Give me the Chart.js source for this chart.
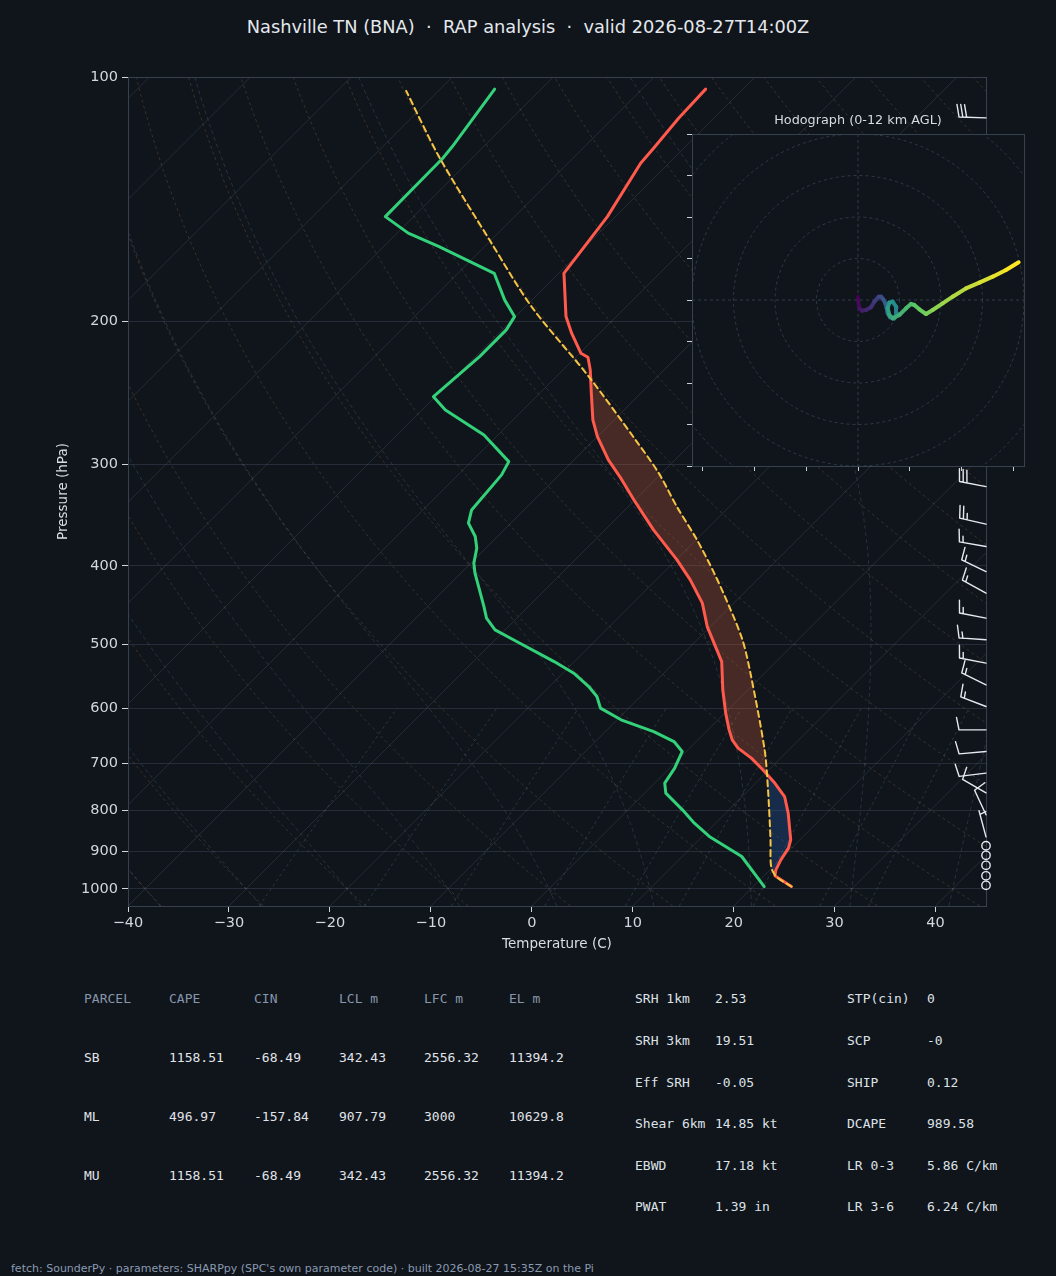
<!DOCTYPE html>
<html>
<head>
<meta charset="utf-8">
<script src="https://cdn.jsdelivr.net/npm/chart.js@4.4.1/dist/chart.umd.min.js"></script>
<style>
  html, body { margin: 0; padding: 0; background: #10141b; }
  #page { position: relative; width: 1056px; height: 1276px; overflow: hidden; font-family: "DejaVu Sans", sans-serif; }
  #skew { position: absolute; left: 0; top: 0; }
  #hodo { position: absolute; left: 680px; top: 100px; }
  .txt { position: absolute; white-space: pre; }
  #title { left: 0; width: 1056px; top: 16px; text-align: center; font-size: 17.8px; line-height: 22px; color: #e4e8ec; }
  #hodoTitle { left: 708px; width: 300px; top: 112px; text-align: center; font-size: 12.8px; line-height: 16px; color: #d6dbe1; }
  .mono { font-family: "DejaVu Sans Mono", monospace; font-size: 13px; line-height: 16px; }
  #foot { left: 11px; top: 1262px; font-size: 11px; line-height: 14px; color: #8a9ab0; }
</style>
</head>
<body>
<div id="page">
  <div id="title" class="txt">Nashville TN (BNA)  ·  RAP analysis  ·  valid 2026-08-27T14:00Z</div>
  <canvas id="skew" width="1056" height="960"></canvas>
  <canvas id="hodo" width="360" height="380"></canvas>
  <div id="hodoTitle" class="txt">Hodograph (0-12 km AGL)</div>
  <div id="tables"></div>
  <div id="foot" class="txt">fetch: SounderPy · parameters: SHARPpy (SPC's own parameter code) · built 2026-08-27 15:35Z on the Pi</div>
</div>
<script>
// ---- sounding values (hPa, degC) ----
const TEMP_P = [993.6, 963.9, 947.6, 921.1, 891.1, 870.4, 806.8, 769.7, 741.0, 713.5, 690.2, 671.0, 655.4, 637.1, 607.5, 568.6, 524.9, 475.3, 444.8, 416.4, 393.4, 361.3, 331.9, 312.9, 296.3, 277.3, 264.5, 245.2, 229.6, 221.4, 218.9, 206.8, 197.3, 175.9, 174.5, 148.6, 127.7, 122.4, 112.4, 103.5];
const TEMP_C = [23.8, 21.1, 20.6, 20.1, 19.7, 19.1, 16.2, 14.2, 11.9, 9.4, 7.1, 4.8, 3.4, 2.1, 0.1, -2.5, -5.4, -10.3, -13.1, -16.6, -19.9, -25.2, -30.1, -33.4, -36.6, -40.0, -42.1, -44.9, -47.3, -48.8, -49.9, -52.8, -55.0, -59.2, -59.5, -60.8, -62.8, -63.0, -63.5, -63.7];

const DEWP_P = [993.6, 912.5, 862.1, 830.1, 799.3, 762.4, 741.0, 710.2, 677.5, 658.6, 640.2, 619.2, 599.0, 579.6, 563.4, 542.5, 524.9, 495.9, 479.7, 464.1, 449.1, 408.5, 397.1, 380.5, 368.2, 354.5, 341.4, 309.1, 297.7, 276.0, 257.1, 247.6, 221.0, 204.9, 197.3, 188.3, 174.5, 161.8, 155.7, 148.6, 125.9, 121.9, 103.5];
const DEWP_C = [21.1, 15.9, 10.7, 7.9, 5.4, 2.1, 1.0, 0.5, -0.4, -2.2, -5.2, -9.6, -12.8, -14.3, -16.1, -18.9, -22.0, -27.7, -31.0, -33.0, -34.4, -38.6, -39.7, -40.9, -42.2, -44.2, -45.2, -45.7, -46.3, -51.4, -57.7, -60.2, -59.6, -59.6, -60.1, -62.7, -66.4, -74.5, -78.9, -82.8, -82.9, -83.1, -84.6];

const PARCEL_P = [993.6, 965.8, 938.7, 870.4, 755.3, 674.3, 542.5, 493.5, 449.1, 408.5, 371.7, 338.2, 307.6, 279.9, 233.9, 191.8, 159.5, 125.4, 104.0];
const PARCEL_C = [23.8, 21.3, 19.8, 17.1, 11.9, 7.6, -1.4, -5.5, -10.1, -14.9, -19.9, -25.2, -30.3, -35.9, -46.8, -59.4, -69.9, -83.4, -93.2];

// wind barbs: pressure (hPa), speed (kt), direction (deg)
const BARB_P   = [112.3, 319.6, 355.5, 378.8, 406.7, 432.4, 464.1, 493.5, 527.3, 560.7, 596.3, 637.1, 677.5, 720.3, 761.8, 810.6, 862.9, 885.1, 909.4, 935.5, 963.9, 990.1];
const BARB_KT  = [30, 30, 25, 15, 15, 15, 15, 15, 15, 15, 15, 10, 10, 10, 10, 10, 5, 0, 0, 0, 0, 0];
const BARB_DIR = [272, 281, 283, 280, 296, 299, 281, 274, 281, 296, 291, 270, 265, 263, 300, 335, 345, 0, 0, 0, 0, 0];

// hodograph u/v (kt)
const HODO_U = [0, 0, 0.32, 0.96, 1.93, 3.13, 3.94, 4.98, 5.54, 6.10, 6.59, 6.91, 7.15, 7.71, 8.76, 9.32, 9.16, 8.35, 7.55, 7.15, 7.55, 8.35, 9.96, 11.57, 12.77, 13.57, 14.78, 16.39, 17.99, 20.40, 22.81, 26.02, 29.24, 32.45, 35.66, 38.71];
const HODO_V = [0.8, 0, -2.0, -2.57, -2.41, -1.77, -0.40, 0.80, 0.80, 0.16, -0.80, -2.0, -3.21, -4.18, -4.42, -3.21, -1.61, -0.40, -0.64, -2.0, -3.61, -4.42, -3.61, -2.0, -0.96, -1.20, -2.25, -3.37, -2.41, -0.80, 0.80, 2.81, 4.18, 5.62, 7.23, 9.08];

const P_TICKS = [100, 200, 300, 400, 500, 600, 700, 800, 900, 1000];
const T_TICKS = [-40, -30, -20, -10, 0, 10, 20, 30, 40];
const HODO_X_TICKS = [-37.5, -25, -12.5, 0, 12.5, 25, 37.5];
const HODO_Y_TICKS = [-40, -30, -20, -10, 0, 10, 20, 30, 40];
const HODO_RINGS = [10, 20, 30, 40, 50, 60];

// table values
const PARCEL_HEAD = ['PARCEL', 'CAPE', 'CIN', 'LCL m', 'LFC m', 'EL m'];
const PARCEL_ROWS = [
  ['SB', '1158.51', '-68.49', '342.43', '2556.32', '11394.2'],
  ['ML', '496.97', '-157.84', '907.79', '3000', '10629.8'],
  ['MU', '1158.51', '-68.49', '342.43', '2556.32', '11394.2']
];
const INDEX_LEFT = [['SRH 1km', '2.53'], ['SRH 3km', '19.51'], ['Eff SRH', '-0.05'], ['Shear 6km', '14.85 kt'], ['EBWD', '17.18 kt'], ['PWAT', '1.39 in']];
const INDEX_RIGHT = [['STP(cin)', '0'], ['SCP', '-0'], ['SHIP', '0.12'], ['DCAPE', '989.58'], ['LR 0-3', '5.86 C/km'], ['LR 3-6', '6.24 C/km']];

// ---- layout ----
const P_MIN = 100, P_MAX = 1050, X_MIN = -40, X_MAX = 45;
const AREA = { left: 128, top: 77, right: 986, bottom: 906 };
// skew: isotherms rise one pixel right per pixel up
const SKEW = ((AREA.bottom - AREA.top) / Math.log10(P_MAX / P_MIN)) / ((AREA.right - AREA.left) / (X_MAX - X_MIN));
const skewX = (t, p) => t + SKEW * Math.log10(P_MAX / p);

const BG = '#10141b';
const TICK_COL = '#d2d7de';
Chart.defaults.font.family = '"DejaVu Sans", sans-serif';

function interpLog(P, T, p) {
  for (let i = 0; i < P.length - 1; i++) {
    if (P[i] >= p && p >= P[i + 1]) {
      const f = (Math.log(P[i]) - Math.log(p)) / (Math.log(P[i]) - Math.log(P[i + 1]));
      return T[i] + f * (T[i + 1] - T[i]);
    }
  }
  return null;
}

// CAPE / CIN areas between parcel and environment
function buildShading() {
  const hi = Math.min(TEMP_P[0], PARCEL_P[0]);
  const lo = Math.max(TEMP_P[TEMP_P.length - 1], PARCEL_P[PARCEL_P.length - 1]);
  const ps = [...new Set([...TEMP_P, ...PARCEL_P])].filter(p => p <= hi && p >= lo).sort((a, b) => b - a);
  const rows = ps.map(p => ({ p, tp: interpLog(PARCEL_P, PARCEL_C, p), te: interpLog(TEMP_P, TEMP_C, p) }));
  const regions = [];
  let cur = null;
  rows.forEach((r, i) => {
    const d1 = r.tp - r.te;
    if (i > 0) {
      const q = rows[i - 1], d0 = q.tp - q.te;
      if (d0 * d1 < 0) {
        const f = d0 / (d0 - d1);
        const p = Math.exp(Math.log(q.p) + f * (Math.log(r.p) - Math.log(q.p)));
        const t = q.te + f * (r.te - q.te);
        const c = { p, tp: t, te: t };
        cur.pts.push(c);
        cur = { sign: Math.sign(d1), pts: [c] };
        regions.push(cur);
      }
    }
    if (!cur) { cur = { sign: Math.sign(d1), pts: [] }; regions.push(cur); }
    if (cur.sign === 0) cur.sign = Math.sign(d1);
    cur.pts.push(r);
  });
  regions.forEach(g => {
    g.area = 0;
    for (let i = 1; i < g.pts.length; i++) {
      g.area += Math.abs((g.pts[i].tp - g.pts[i].te) + (g.pts[i - 1].tp - g.pts[i - 1].te)) * Math.log(g.pts[i - 1].p / g.pts[i].p);
    }
  });
  const cape = regions.filter(g => g.sign > 0).sort((a, b) => b.area - a.area)[0];
  const lfc = cape.pts[0].p;
  const cin = regions.filter(g => g.sign < 0 && g.pts[g.pts.length - 1].p >= lfc - 0.01);
  const poly = g => g.pts.map(r => [r.tp, r.p]).concat(g.pts.slice().reverse().map(r => [r.te, r.p]));
  return [
    { color: 'rgba(200, 92, 62, 0.30)', pts: poly(cape) },
    ...cin.map(g => ({ color: 'rgba(40, 92, 175, 0.32)', pts: poly(g) }))
  ];
}
const SHADES = buildShading();

// background thermodynamic lines
const LEVELS = [];
for (let lp = Math.log10(P_MAX); lp >= 2 - 1e-9; lp -= 0.01) LEVELS.push(Math.pow(10, lp));
LEVELS.push(100);

function moistAdiabat(t0) {
  const dTdp = (T, p) => {
    const es = 6.112 * Math.exp(17.67 * (T - 273.15) / (T - 29.65));
    const rs = 0.622 * es / (p - es);
    return (287.04 * T + 2.501e6 * rs) / (1005.7 + 2.501e6 * 2.501e6 * rs * 0.622 / (287.04 * T * T)) / p;
  };
  const step = (T, p, dp) => { const k1 = dTdp(T, p); const k2 = dTdp(T + k1 * dp, p + dp); return T + 0.5 * (k1 + k2) * dp; };
  const down = [];
  let T = t0 + 273.15, p = 1000;
  while (p < P_MAX) { T = step(T, p, 5); p += 5; down.push([T - 273.15, p]); }
  const up = [[t0, 1000]];
  T = t0 + 273.15; p = 1000;
  while (p > P_MIN) { T = step(T, p, -5); p -= 5; up.push([T - 273.15, p]); }
  return down.reverse().concat(up);
}

const guidesPlugin = {
  id: 'guides',
  beforeDatasetsDraw(chart) {
    const { ctx, chartArea: a, scales: { x, y } } = chart;
    const path = pts => {
      ctx.beginPath();
      pts.forEach(([t, p], i) => {
        const px = x.getPixelForValue(skewX(t, p)), py = y.getPixelForValue(p);
        if (i) ctx.lineTo(px, py); else ctx.moveTo(px, py);
      });
      ctx.stroke();
    };
    ctx.save();
    ctx.beginPath();
    ctx.rect(a.left, a.top, a.right - a.left, a.bottom - a.top);
    ctx.clip();
    ctx.lineWidth = 1;

    // isotherms
    ctx.strokeStyle = 'rgba(150, 165, 185, 0.17)';
    for (let t = -160; t <= 50; t += 10) path([[t, P_MAX], [t, P_MIN]]);

    // dry adiabats
    ctx.setLineDash([3, 3]);
    ctx.strokeStyle = 'rgba(190, 145, 90, 0.24)';
    for (let t0 = -40; t0 <= 200; t0 += 10) {
      path(LEVELS.map(p => [(t0 + 273.15) * Math.pow(p / 1000, 0.2857) - 273.15, p]));
    }
    // moist adiabats
    ctx.setLineDash([4, 3]);
    ctx.strokeStyle = 'rgba(120, 160, 185, 0.22)';
    for (let t0 = -40; t0 <= 40; t0 += 10) path(moistAdiabat(t0));

    // mixing ratio lines
    ctx.setLineDash([3, 3]);
    ctx.strokeStyle = 'rgba(110, 170, 180, 0.24)';
    [0.0004, 0.001, 0.002, 0.004, 0.007, 0.01, 0.016, 0.024, 0.032].forEach(w => {
      const pts = [];
      for (let p = P_MAX; p >= 600; p -= 10) {
        const e = w * p / (0.622 + w), l = Math.log(e / 6.112);
        pts.push([243.5 * l / (17.67 - l), p]);
      }
      path(pts);
    });
    ctx.setLineDash([]);

    // CAPE / CIN shading
    SHADES.forEach(s => {
      ctx.fillStyle = s.color;
      ctx.beginPath();
      s.pts.forEach(([t, p], i) => {
        const px = x.getPixelForValue(skewX(t, p)), py = y.getPixelForValue(p);
        if (i) ctx.lineTo(px, py); else ctx.moveTo(px, py);
      });
      ctx.closePath();
      ctx.fill();
    });
    ctx.restore();
  }
};

function drawBarb(ctx, x, y, kt, dir) {
  const L = 27, H = 12.5, GAP = 3.8;
  if (kt < 2.5) {
    ctx.beginPath();
    ctx.arc(x, y, 4.2, 0, Math.PI * 2);
    ctx.stroke();
    return;
  }
  const r = dir * Math.PI / 180;
  const ux = Math.sin(r), uy = -Math.cos(r);
  const nx = -uy, ny = ux;
  const tx = x + ux * L, ty = y + uy * L;
  ctx.beginPath();
  ctx.moveTo(x, y);
  ctx.lineTo(tx, ty);
  let rem = Math.round(kt / 5) * 5;
  const fulls = Math.floor(rem / 10);
  rem -= fulls * 10;
  let d = 0;
  for (let i = 0; i < fulls; i++) {
    const bx = tx - ux * d, by = ty - uy * d;
    ctx.moveTo(bx, by);
    ctx.lineTo(bx + nx * H + ux * H * 0.2, by + ny * H + uy * H * 0.2);
    d += GAP;
  }
  if (rem >= 5) {
    if (fulls === 0) d = GAP;
    const bx = tx - ux * d, by = ty - uy * d;
    ctx.moveTo(bx, by);
    ctx.lineTo(bx + nx * H * 0.5 + ux * H * 0.1, by + ny * H * 0.5 + uy * H * 0.1);
  }
  ctx.stroke();
}

const framePlugin = {
  id: 'frame',
  afterDraw(chart) {
    const { ctx, chartArea: a, scales: { y } } = chart;
    ctx.save();
    ctx.strokeStyle = '#36404e';
    ctx.lineWidth = 1;
    ctx.strokeRect(a.left + 0.5, a.top + 0.5, a.right - a.left, a.bottom - a.top);
    ctx.strokeStyle = '#e6eaef';
    ctx.lineWidth = 1.4;
    ctx.lineCap = 'round';
    BARB_P.forEach((p, i) => drawBarb(ctx, a.right, y.getPixelForValue(p), BARB_KT[i], BARB_DIR[i]));
    ctx.restore();
  }
};

const line = (data, color, width, dash, tension) => ({
  data, showLine: true, borderColor: color, borderWidth: width, borderDash: dash || [],
  tension: tension || 0,
  pointRadius: 0, borderJoinStyle: 'round', borderCapStyle: 'round', fill: false
});

new Chart(document.getElementById('skew'), {
  type: 'scatter',
  data: {
    datasets: [
      line(PARCEL_P.map((p, i) => ({ x: skewX(PARCEL_C[i], p), y: p })), '#f6c445', 2, [6, 4], 0.3),
      line(TEMP_P.map((p, i) => ({ x: skewX(TEMP_C[i], p), y: p })), '#ff5a4b', 3),
      line(DEWP_P.map((p, i) => ({ x: skewX(DEWP_C[i], p), y: p })), '#33d17a', 3)
    ]
  },
  options: {
    responsive: false,
    animation: false,
    events: [],
    layout: { padding: { left: 0, top: AREA.top, right: 1056 - AREA.right, bottom: 0 } },
    plugins: { legend: { display: false }, tooltip: { enabled: false } },
    scales: {
      x: {
        type: 'linear', min: X_MIN, max: X_MAX,
        afterBuildTicks: s => { s.ticks = T_TICKS.map(v => ({ value: v })); },
        afterFit: s => { s.height = 960 - AREA.bottom; },
        border: { display: false },
        grid: { drawOnChartArea: false, tickColor: TICK_COL, tickLength: 6 },
        ticks: { color: TICK_COL, font: { size: 14.5 }, padding: 3, maxRotation: 0, autoSkip: false,
                 callback: v => (v < 0 ? '\u2212' + Math.abs(v) : String(v)) },
        title: { display: true, text: 'Temperature (C)', color: '#d9dee4', font: { size: 13.5 }, padding: { top: 4, bottom: 7 } }
      },
      y: {
        type: 'logarithmic', reverse: true, min: P_MIN, max: P_MAX,
        afterBuildTicks: s => { s.ticks = P_TICKS.map(v => ({ value: v })); },
        afterFit: s => { s.width = AREA.left; },
        border: { display: false },
        grid: { color: '#262d38', tickColor: TICK_COL, tickLength: 6 },
        ticks: { color: TICK_COL, font: { size: 14.5 }, padding: 4, autoSkip: false, callback: v => String(v) },
        title: { display: true, text: 'Pressure (hPa)', color: '#d9dee4', font: { size: 13.5 }, padding: { top: 55, bottom: 0 } }
      }
    }
  },
  plugins: [guidesPlugin, framePlugin]
});

// ---- hodograph ----
const VIR = [[68, 1, 84], [59, 82, 139], [33, 145, 140], [94, 201, 98], [253, 231, 37]];
function viridis(t) {
  t = Math.max(0, Math.min(1, t));
  const s = t * 4, i = Math.min(3, Math.floor(s)), f = s - i;
  const a = VIR[i], b = VIR[i + 1];
  return 'rgb(' + a.map((v, k) => Math.round(v + f * (b[k] - v))).join(',') + ')';
}

const hodoPlugin = {
  id: 'hodoBg',
  beforeDraw(chart) {
    const { ctx, chartArea: a, scales: { x, y } } = chart;
    ctx.save();
    ctx.fillStyle = BG;
    ctx.fillRect(a.left, a.top, a.right - a.left, a.bottom - a.top);
    ctx.beginPath();
    ctx.rect(a.left, a.top, a.right - a.left, a.bottom - a.top);
    ctx.clip();
    const cx = x.getPixelForValue(0), cy = y.getPixelForValue(0);
    ctx.strokeStyle = '#2f3a48';
    ctx.lineWidth = 1;
    ctx.setLineDash([3, 3]);
    HODO_RINGS.forEach(r => {
      ctx.beginPath();
      ctx.arc(cx, cy, x.getPixelForValue(r) - cx, 0, Math.PI * 2);
      ctx.stroke();
    });
    ctx.beginPath();
    ctx.moveTo(a.left, cy); ctx.lineTo(a.right, cy);
    ctx.moveTo(cx, a.top); ctx.lineTo(cx, a.bottom);
    ctx.stroke();
    ctx.restore();
  },
  afterDraw(chart) {
    const { ctx, chartArea: a } = chart;
    ctx.save();
    ctx.strokeStyle = '#36404e';
    ctx.lineWidth = 1;
    ctx.strokeRect(a.left + 0.5, a.top + 0.5, a.right - a.left, a.bottom - a.top);
    ctx.restore();
  }
};

new Chart(document.getElementById('hodo'), {
  type: 'scatter',
  data: {
    datasets: [{
      data: HODO_U.map((u, i) => ({ x: u, y: HODO_V[i] })),
      showLine: true, borderWidth: 4, pointRadius: 0,
      borderCapStyle: 'round', borderJoinStyle: 'round',
      segment: { borderColor: c => viridis(c.p0DataIndex / (HODO_U.length - 2)) }
    }]
  },
  options: {
    responsive: false,
    animation: false,
    events: [],
    layout: { padding: { left: 0, top: 34, right: 16, bottom: 0 } },
    plugins: { legend: { display: false }, tooltip: { enabled: false } },
    scales: {
      x: {
        type: 'linear', min: -40, max: 40,
        afterBuildTicks: s => { s.ticks = HODO_X_TICKS.map(v => ({ value: v })); },
        afterFit: s => { s.height = 14; },
        border: { display: false },
        grid: { drawOnChartArea: false, tickColor: '#c9d0d8', tickLength: 5 },
        ticks: { display: false }
      },
      y: {
        type: 'linear', min: -40, max: 40,
        afterBuildTicks: s => { s.ticks = HODO_Y_TICKS.map(v => ({ value: v })); },
        afterFit: s => { s.width = 12; },
        border: { display: false },
        grid: { drawOnChartArea: false, tickColor: '#c9d0d8', tickLength: 5 },
        ticks: { display: false }
      }
    }
  },
  plugins: [hodoPlugin]
});

// ---- tables ----
const tables = document.getElementById('tables');
function put(text, x, yc, color) {
  const d = document.createElement('div');
  d.className = 'txt mono';
  d.style.left = x + 'px';
  d.style.top = (yc - 8) + 'px';
  d.style.color = color;
  d.textContent = text;
  tables.appendChild(d);
}
const PCOLS = [84, 169, 254, 339, 424, 509];
const PROWS = [999, 1058, 1117, 1176];
PARCEL_HEAD.forEach((h, c) => put(h, PCOLS[c], PROWS[0], '#8797ab'));
PARCEL_ROWS.forEach((row, r) => row.forEach((v, c) => put(v, PCOLS[c], PROWS[r + 1], '#e0e4e9')));
const IROWS = [999, 1041, 1083, 1124, 1166, 1207];
INDEX_LEFT.forEach(([k, v], r) => { put(k, 635, IROWS[r], '#dde2e7'); put(v, 715, IROWS[r], '#dde2e7'); });
INDEX_RIGHT.forEach(([k, v], r) => { put(k, 847, IROWS[r], '#dde2e7'); put(v, 927, IROWS[r], '#dde2e7'); });
</script>
</body>
</html>
